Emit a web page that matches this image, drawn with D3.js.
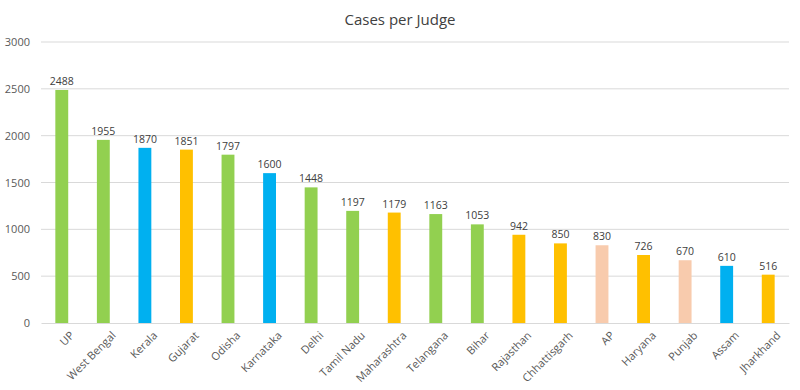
<html>
<head>
<meta charset="utf-8">
<script src="https://d3js.org/d3.v7.min.js"></script>
<style>
  body { margin: 0; background: #fff; }
  text { font-family: "Open Sans", sans-serif; }
</style>
</head>
<body>
<div id="chart"></div>
<script>
  // data
  var states = ["UP", "West Bengal", "Kerala", "Gujarat", "Odisha", "Karnataka", "Delhi",
    "Tamil Nadu", "Maharashtra", "Telangana", "Bihar", "Rajasthan", "Chhattisgarh", "AP",
    "Haryana", "Punjab", "Assam", "Jharkhand"];
  var cases = [2488, 1955, 1870, 1851, 1797, 1600, 1448, 1197, 1179, 1163, 1053, 942, 850, 830, 726, 670, 610, 516];
  var groups = ["g", "g", "b", "o", "g", "b", "g", "g", "o", "g", "g", "o", "o", "p", "o", "p", "b", "o"];
  var yTicks = [0, 500, 1000, 1500, 2000, 2500, 3000];

  var colors = { g: "#92d050", b: "#00b0f0", o: "#ffc000", p: "#f8cbad" };

  var W = 800, H = 390;
  var margin = {top: 42, right: 11, bottom: 67, left: 41},
      width = W - margin.left - margin.right,
      height = H - margin.top - margin.bottom;

  var svg = d3.select("#chart").append("svg")
      .attr("width", W).attr("height", H);

  svg.append("text")
    .attr("x", W / 2).attr("y", 25)
    .attr("text-anchor", "middle")
    .attr("font-size", 15)
    .attr("fill", "#404040")
    .text("Cases per Judge");

  var g = svg.append("g")
    .attr("transform", "translate(" + margin.left + "," + margin.top + ")");

  var x = d3.scaleBand()
    .domain(states)
    .range([0, width])
    .paddingInner(0.69)
    .paddingOuter(0.345);

  var y = d3.scaleLinear()
    .domain([0, 3000])
    .range([height, 0]);

  // gridlines
  g.selectAll(".grid")
    .data(yTicks.slice(1))
    .enter().append("line")
      .attr("x1", 0).attr("x2", width)
      .attr("y1", function(d) { return y(d); })
      .attr("y2", function(d) { return y(d); })
      .attr("stroke", "#d9d9d9");

  // y axis
  var yAxis = g.append("g")
    .call(d3.axisLeft(y).tickValues(yTicks).tickFormat(d3.format("d")).tickSize(0).tickPadding(11));
  yAxis.select(".domain").remove();
  yAxis.selectAll("text").attr("font-size", 11).attr("fill", "#595959")
    .style("font-family", "'Open Sans', sans-serif");

  // bars
  g.selectAll("rect")
    .data(states)
    .enter().append("rect")
      .attr("x", function(d) { return x(d); })
      .attr("y", function(d, i) { return y(cases[i]); })
      .attr("width", x.bandwidth())
      .attr("height", function(d, i) { return height - y(cases[i]); })
      .attr("fill", function(d, i) { return colors[groups[i]]; });

  // value labels
  g.selectAll(".val")
    .data(states)
    .enter().append("text")
      .attr("x", function(d) { return x(d) + x.bandwidth() / 2; })
      .attr("y", function(d, i) { return y(cases[i]) - 5; })
      .attr("text-anchor", "middle")
      .attr("font-size", 10.5)
      .attr("fill", "#404040")
      .text(function(d, i) { return cases[i]; });

  // x axis
  var xAxis = g.append("g")
    .attr("transform", "translate(0," + height + ")")
    .call(d3.axisBottom(x).tickSize(0).tickPadding(12));
  xAxis.select(".domain").attr("stroke", "#d9d9d9");
  xAxis.selectAll("text")
    .attr("font-size", 11)
    .attr("fill", "#595959")
    .style("font-family", "'Open Sans', sans-serif")
    .attr("text-anchor", "end")
    .attr("dx", "0em")
    .attr("dy", "0.6em")
    .attr("transform", "rotate(-45)");
</script>
</body>
</html>
